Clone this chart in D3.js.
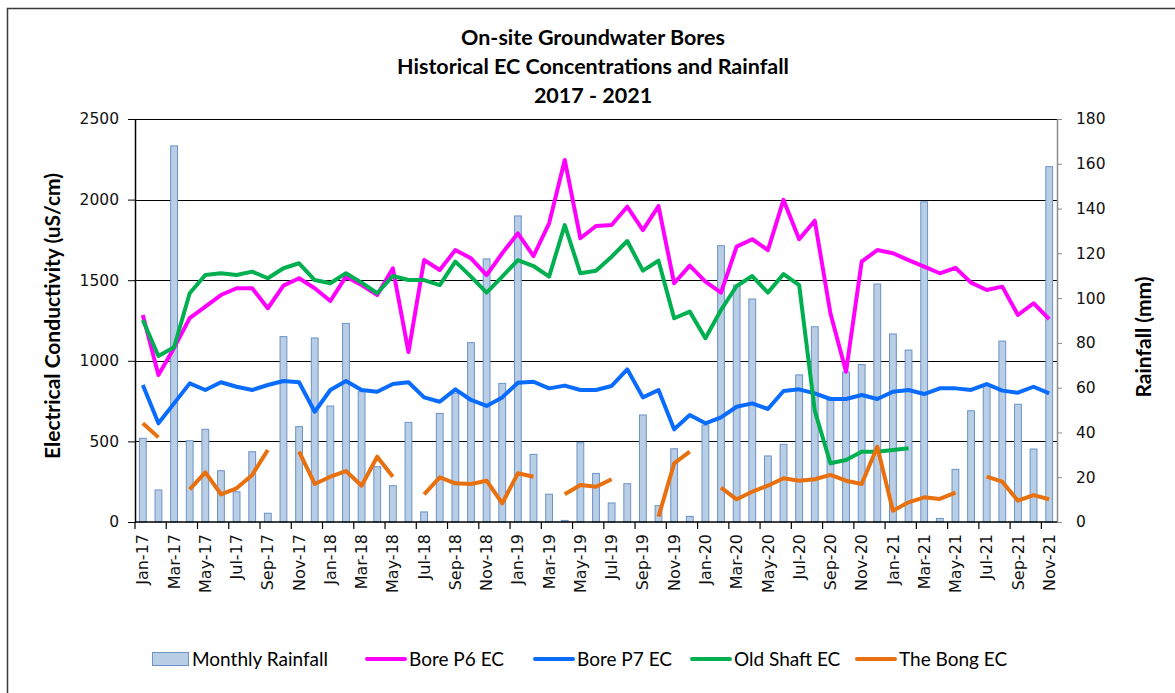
<!DOCTYPE html>
<html>
<head>
<meta charset="utf-8">
<script src="https://cdn.jsdelivr.net/npm/d3@7"></script>
<style>
  body { margin: 0; background: #fff; }
  svg { display: block; }
</style>
</head>
<body>
<div id="chart"></div>
<script>
// month categories, Jan-17 .. Nov-21
const months = [
  "Jan-17","Feb-17","Mar-17","Apr-17","May-17","Jun-17","Jul-17","Aug-17","Sep-17","Oct-17","Nov-17","Dec-17",
  "Jan-18","Feb-18","Mar-18","Apr-18","May-18","Jun-18","Jul-18","Aug-18","Sep-18","Oct-18","Nov-18","Dec-18",
  "Jan-19","Feb-19","Mar-19","Apr-19","May-19","Jun-19","Jul-19","Aug-19","Sep-19","Oct-19","Nov-19","Dec-19",
  "Jan-20","Feb-20","Mar-20","Apr-20","May-20","Jun-20","Jul-20","Aug-20","Sep-20","Oct-20","Nov-20","Dec-20",
  "Jan-21","Feb-21","Mar-21","Apr-21","May-21","Jun-21","Jul-21","Aug-21","Sep-21","Oct-21","Nov-21"
];

// monthly rainfall (mm) - right axis
const rainfall = [
  37.4,14.3,168,36.3,41.4,22.9,13.5,31.4,3.9,82.8,42.6,82.2,
  51.8,88.7,58.2,24.7,16.2,44.5,4.5,48.5,57.5,80.1,117.5,61.9,
  136.7,30.2,12.4,0.7,35.4,21.7,8.5,17.1,47.8,7.3,32.7,2.5,
  43.3,123.4,105.8,99.6,29.5,34.7,65.7,87.2,54.5,67,70.3,106.3,
  84,76.8,143,1.6,23.5,49.7,61,80.8,52.6,32.6,158.7
];

// EC series (uS/cm) - left axis, null = no sample
const boreP6 = [
  1284,912,1080,1265,1336,1408,1450,1450,1326,1466,1512,1450,
  1371,1522,1470,1408,1574,1054,1625,1563,1687,1636,1532,1667,
  1791,1650,1853,2246,1760,1836,1842,1956,1811,1960,1481,1590,
  1491,1423,1708,1754,1687,1998,1754,1869,1295,932,1615,1687,
  1667,1625,1584,1543,1577,1485,1439,1460,1284,1357,1259
];
const boreP7 = [
  850,612,736,860,819,867,839,819,850,875,867,684,
  819,875,819,808,856,867,773,746,823,757,720,773,
  864,870,829,846,819,819,844,947,773,819,575,664,
  612,649,715,736,701,813,823,798,763,763,788,763,
  808,819,794,829,829,819,856,815,802,839,798
];
const oldShaft = [
  1253,1030,1084,1419,1532,1543,1532,1553,1512,1574,1605,1501,
  1481,1543,1485,1419,1526,1501,1501,1470,1615,1522,1423,1522,
  1625,1588,1522,1842,1543,1559,1646,1743,1559,1621,1264,1305,
  1140,1315,1464,1526,1423,1538,1470,690,364,385,436,436,
  447,457,null,null,null,null,null,null,null,null,null
];
const theBong = [
  612,525,null,203,308,172,209,292,447,null,436,236,
  281,316,225,405,281,null,172,277,240,236,256,116,
  302,281,null,172,230,219,265,null,null,33,364,436,
  null,213,141,188,225,271,256,265,292,256,236,467,
  70,122,153,143,182,null,281,250,132,167,141
];

const ecTicks = [0, 500, 1000, 1500, 2000, 2500];
const rainTicks = [0, 20, 40, 60, 80, 100, 120, 140, 160, 180];

const series = [
  { name: "Bore P6 EC", values: boreP6, color: "#ff00ff" },
  { name: "Bore P7 EC", values: boreP7, color: "#0a6cff" },
  { name: "Old Shaft EC", values: oldShaft, color: "#00b050" },
  { name: "The Bong EC", values: theBong, color: "#e8700f" }
];

const width = 1175, height = 693;
const margin = { top: 119, right: 118, bottom: 171, left: 135 };
const plotW = width - margin.left - margin.right,
      plotH = height - margin.top - margin.bottom;

const labelFont = "Lato, 'Open Sans', sans-serif";
const tickFont = "'DejaVu Sans', Verdana, sans-serif";

const svg = d3.select("#chart").append("svg")
  .attr("width", width).attr("height", height);

// chart border (only top and left visible in the frame)
svg.append("path")
  .attr("d", `M7.5,${height} V8.5 H${width}`)
  .attr("fill", "none").attr("stroke", "#3a3a3a").attr("stroke-width", 1.5);

// titles
const titleLines = ["On-site Groundwater Bores", "Historical EC Concentrations and Rainfall", "2017 - 2021"];
svg.append("g").selectAll("text")
  .data(titleLines)
  .join("text")
  .attr("x", 593)
  .attr("y", (d, i) => 45 + i * 29)
  .attr("text-anchor", "middle")
  .style("font-family", labelFont)
  .style("font-weight", "bold")
  .style("font-size", "21.5px")
  .text(d => d);

const x = d3.scaleBand()
  .domain(months)
  .range([margin.left, margin.left + plotW])
  .paddingInner(0.5)
  .paddingOuter(0.25);
const step = x.step();

const yEC = d3.scaleLinear().domain([0, 2500]).range([margin.top + plotH, margin.top]);
const yRain = d3.scaleLinear().domain([0, 180]).range([margin.top + plotH, margin.top]);

// gridlines
svg.append("g")
  .selectAll("line")
  .data(ecTicks.slice(1))
  .join("line")
  .attr("x1", margin.left).attr("x2", margin.left + plotW)
  .attr("y1", d => Math.round(yEC(d)) + 0.5).attr("y2", d => Math.round(yEC(d)) + 0.5)
  .attr("stroke", "#000").attr("stroke-width", 1);

// rainfall bars
svg.append("g")
  .selectAll("rect")
  .data(rainfall)
  .join("rect")
  .attr("x", (d, i) => x(months[i]) + 0.5)
  .attr("y", d => yRain(d))
  .attr("width", x.bandwidth() - 1)
  .attr("height", d => yRain(0) - yRain(d))
  .attr("fill", "#b9cde5")
  .attr("stroke", "#6a93c9")
  .attr("stroke-width", 1);

// EC lines
const line = d3.line()
  .defined(d => d != null)
  .x((d, i) => x(months[i]) + x.bandwidth() / 2)
  .y(d => yEC(d));

svg.append("g")
  .selectAll("path")
  .data(series)
  .join("path")
  .attr("d", d => line(d.values))
  .attr("fill", "none")
  .attr("stroke", d => d.color)
  .attr("stroke-width", 4)
  .attr("stroke-linejoin", "round");

// left axis
const leftAxis = svg.append("g")
  .attr("transform", `translate(${margin.left},0)`)
  .call(d3.axisLeft(yEC).tickValues(ecTicks).tickFormat(d3.format("d"))
    .tickSize(7).tickSizeOuter(0).tickPadding(9));
leftAxis.select(".domain").attr("stroke", "#000").attr("stroke-width", 1.5);
leftAxis.selectAll(".tick line").attr("stroke", "#000");
leftAxis.selectAll("text").style("font-family", tickFont).style("font-size", "15.5px").attr("fill", "#111");

// right axis
const rightAxis = svg.append("g")
  .attr("transform", `translate(${margin.left + plotW},0)`)
  .call(d3.axisRight(yRain).tickValues(rainTicks).tickSize(5).tickSizeOuter(0).tickPadding(14));
rightAxis.select(".domain").attr("stroke", "#8c8c8c").attr("stroke-width", 1.5);
rightAxis.selectAll(".tick line").attr("stroke", "#8c8c8c");
rightAxis.selectAll("text").style("font-family", tickFont).style("font-size", "15.5px").attr("fill", "#111");

// bottom axis: labels every other month, ticks at category boundaries
const xAxis = svg.append("g")
  .attr("transform", `translate(0,${margin.top + plotH})`);
xAxis.append("line")
  .attr("x1", margin.left).attr("x2", margin.left + plotW)
  .attr("stroke", "#000").attr("stroke-width", 1.5);
xAxis.selectAll(".xt")
  .data(months.filter((m, i) => i % 2 === 0))
  .join("line")
  .attr("class", "xt")
  .attr("x1", d => x(d) - step * 0.25).attr("x2", d => x(d) - step * 0.25)
  .attr("y1", 0).attr("y2", 7)
  .attr("stroke", "#000").attr("stroke-width", 1.2);
xAxis.selectAll(".xl")
  .data(months.filter((m, i) => i % 2 === 0))
  .join("text")
  .attr("class", "xl")
  .attr("transform", d => `translate(${x(d) + x.bandwidth() / 2},12) rotate(-90)`)
  .attr("text-anchor", "end")
  .attr("dy", "0.35em")
  .style("font-family", tickFont)
  .style("font-size", "16px")
  .attr("fill", "#111")
  .text(d => d);

// axis titles
svg.append("text")
  .attr("transform", `translate(60,316) rotate(-90)`)
  .attr("text-anchor", "middle")
  .style("font-family", labelFont)
  .style("font-weight", "bold")
  .style("font-size", "21px")
  .text("Electrical Conductivity (uS/cm)");
svg.append("text")
  .attr("transform", `translate(1151,337) rotate(-90)`)
  .attr("text-anchor", "middle")
  .style("font-family", labelFont)
  .style("font-weight", "bold")
  .style("font-size", "21px")
  .text("Rainfall (mm)");

// legend
const legendY = 659;
const legend = svg.append("g");
legend.append("rect")
  .attr("x", 152.5).attr("y", legendY - 6.5)
  .attr("width", 36).attr("height", 13)
  .attr("fill", "#b9cde5").attr("stroke", "#6a93c9");
legend.append("text")
  .attr("x", 192).attr("y", legendY).attr("dy", "0.35em")
  .style("font-family", labelFont)
  .style("font-size", "19px")
  .text("Monthly Rainfall");

const legendX = [367, 535, 692, 857];
legend.selectAll(".li")
  .data(series)
  .join("g")
  .attr("class", "li")
  .attr("transform", (d, i) => `translate(${legendX[i]},${legendY})`)
  .each(function (d) {
    const g = d3.select(this);
    g.append("line").attr("x1", 0).attr("x2", 38)
      .attr("stroke", d.color).attr("stroke-width", 4).attr("stroke-linecap", "round");
    g.append("text").attr("x", 42).attr("dy", "0.35em")
      .style("font-family", labelFont)
      .style("font-size", "19px")
      .text(d.name);
  });
</script>
</body>
</html>
